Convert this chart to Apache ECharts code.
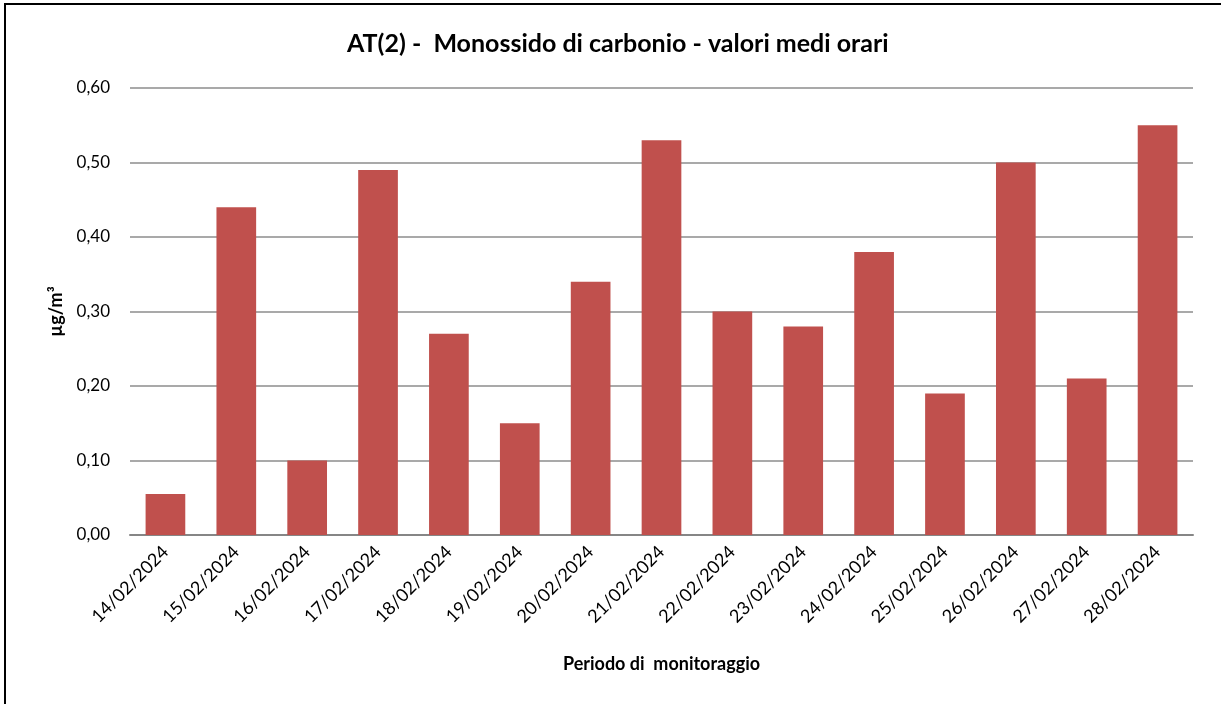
<!DOCTYPE html>
<html>
<head>
<meta charset="utf-8">
<script src="https://cdn.jsdelivr.net/npm/echarts@6/dist/echarts.min.js"></script>
<style>
  html, body { margin: 0; padding: 0; background: #fff; }
  #frame { position: absolute; left: 4px; top: 3px; width: 1217px; height: 701px;
           border-left: 2px solid #000; border-top: 2px solid #000; box-sizing: border-box; }
  #chart { position: absolute; left: 0; top: 0; width: 1221px; height: 704px; }
</style>
</head>
<body>
<div id="frame"></div>
<div id="chart"></div>
<script>
  // dati
  var days = ["14/02/2024", "15/02/2024", "16/02/2024", "17/02/2024", "18/02/2024",
    "19/02/2024", "20/02/2024", "21/02/2024", "22/02/2024", "23/02/2024",
    "24/02/2024", "25/02/2024", "26/02/2024", "27/02/2024", "28/02/2024"];
  var coValues = [0.055, 0.44, 0.10, 0.49, 0.27, 0.15, 0.34, 0.53, 0.30, 0.28, 0.38, 0.19, 0.50, 0.21, 0.55];

  var myChart = echarts.init(document.getElementById("chart"));
  var font = "Lato, 'Open Sans', sans-serif";

  var option = {
    animation: false,
    title: {
      text: "AT(2) -  Monossido di carbonio - valori medi orari",
      left: 342,
      top: 26,
      textStyle: { fontFamily: font, fontSize: 25, fontWeight: "bold", color: "#000" }
    },
    grid: { left: 130, right: 28, top: 88, bottom: 169 },
    xAxis: {
      type: "category",
      data: days,
      name: "Periodo di  monitoraggio",
      nameLocation: "middle",
      nameGap: 120,
      nameTextStyle: { fontFamily: font, fontSize: 18, fontWeight: "bold", color: "#000" },
      axisTick: { show: false },
      axisLine: { lineStyle: { color: "#868686", width: 2 } },
      axisLabel: { rotate: 45, interval: 0, fontFamily: font, fontSize: 18, color: "#000", margin: 14 }
    },
    yAxis: {
      type: "value",
      min: 0,
      max: 0.6,
      interval: 0.1,
      name: "µg/m³",
      nameLocation: "middle",
      nameRotate: 90,
      nameGap: 53,
      nameTextStyle: { fontFamily: font, fontSize: 18, fontWeight: "bold", color: "#000" },
      axisLine: { show: false },
      axisTick: { show: false },
      axisLabel: {
        fontFamily: font, fontSize: 17, color: "#000", margin: 20,
        formatter: function (v) { return v.toFixed(2).replace(".", ","); }
      },
      splitLine: { lineStyle: { color: "#8c8c8c", width: 1.5 } }
    },
    series: [{
      type: "bar",
      data: coValues,
      barCategoryGap: "44%",
      itemStyle: { color: "#C0504D" }
    }]
  };
  myChart.setOption(option);
</script>
</body>
</html>
